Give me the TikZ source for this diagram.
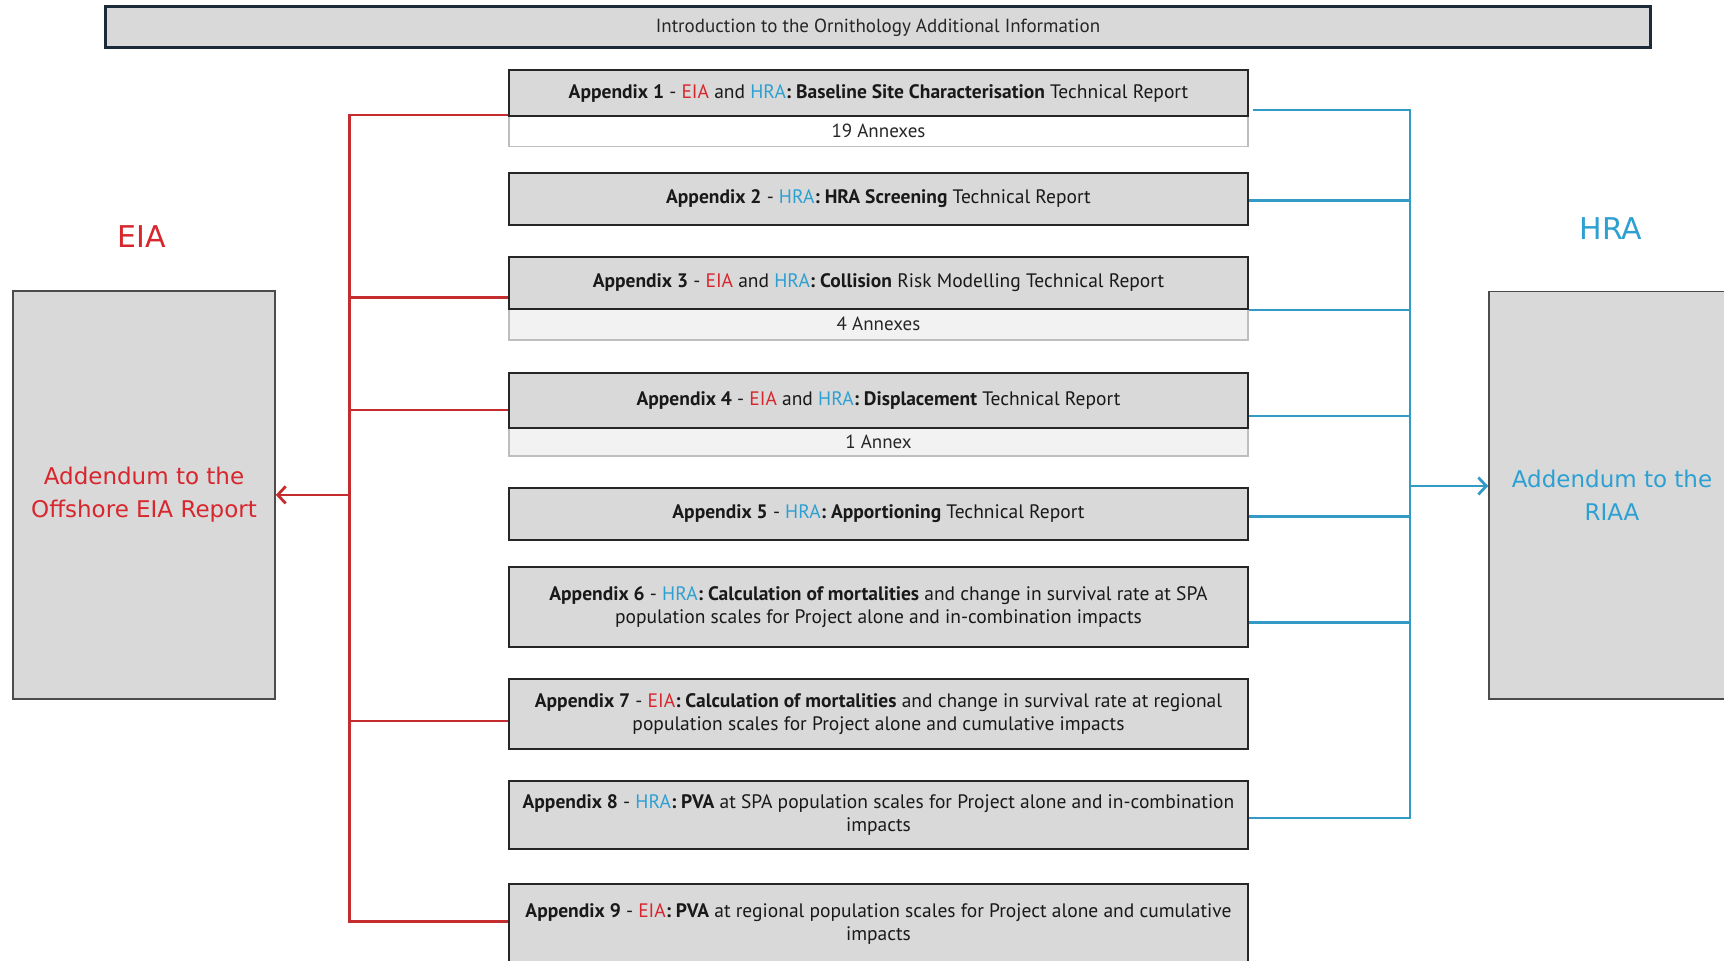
\documentclass[tikz,border=0pt]{standalone}
\usepackage{fontspec}
\setmainfont{PT Sans}
\newfontfamily\addfont{DejaVu Sans}
\usepackage{tikz}
\usetikzlibrary{calc}
\usetikzlibrary{arrows.meta}
\definecolor{eiared}{RGB}{215,38,45}
\definecolor{hrablue}{RGB}{45,160,210}
\definecolor{eialn}{RGB}{196,44,46}
\definecolor{hraln}{RGB}{50,154,196}
\definecolor{boxgrey}{RGB}{217,217,217}
\definecolor{boxline}{RGB}{38,38,38}
\definecolor{navyline}{RGB}{28,43,57}
\definecolor{anngrey}{RGB}{242,242,242}
\definecolor{annline}{RGB}{190,190,190}
\tikzset{
  appbox/.style={draw=boxline,fill=boxgrey,line width=2pt,minimum width=739pt,inner sep=0pt,align=center,text=black!90,font=\fontsize{19.5}{23}\selectfont},
  annbox/.style={draw=annline,line width=1.5pt,minimum width=739pt,inner sep=0pt,text=black!85,font=\fontsize{19}{20}\selectfont},
  addbox/.style={draw=black!70,fill=boxgrey,line width=1.5pt,inner sep=0pt,align=center,font=\addfont\fontsize{23}{33}\selectfont},
  eialine/.style={draw=eialn,line width=2.8pt},
  hraline/.style={draw=hraln,line width=2.8pt}
}
\newcommand{\eia}{\textcolor{eiared}{EIA}}
\newcommand{\hra}{\textcolor{hrablue}{HRA}}
\newcommand{\eiabranch}[2]{\draw[eialine] (#1.west |- 0,#2) -- (rbus |- 0,#2);}
\newcommand{\hrabranch}[2]{\draw[hraline] (#1.east |- 0,#2) -- (hbus |- 0,#2);}

\begin{document}
\begin{tikzpicture}[x=1pt,y=-1pt]
        \useasboundingbox (0,0) rectangle (1724,961);
        % top box
        \node[draw=navyline,fill=boxgrey,line width=3pt,minimum width=1545pt,minimum height=41pt,text=black!85,font=\fontsize{19}{20}\selectfont] (intro) at (878,27.3) {Introduction to the Ornithology Additional Information};
        % annexes
        \node[annbox,fill=white,minimum height=30.5pt] (ann1) at (878.5,131.3) {19 Annexes};
        \node[annbox,fill=anngrey,minimum height=31.5pt] (ann3) at (878.5,324.3) {4 Annexes};
        \node[annbox,fill=anngrey,minimum height=27.7pt] (ann4) at (878.5,442) {1 Annex};
        % appendices
        \node[appbox,minimum height=46pt] (app1) at (878.5,93) {\textbf{Appendix 1} - \eia{} and \hra\textbf{: Baseline Site Characterisation} Technical Report};
        \node[appbox,minimum height=52pt] (app2) at (878.5,198.8) {\textbf{Appendix 2} - \hra\textbf{: HRA Screening} Technical Report};
        \node[appbox,minimum height=52pt] (app3) at (878.5,282.6) {\textbf{Appendix 3} - \eia{} and \hra\textbf{: Collision} Risk Modelling Technical Report};
        \node[appbox,minimum height=55.6pt] (app4) at (878.5,400.5) {\textbf{Appendix 4} - \eia{} and \hra\textbf{: Displacement} Technical Report};
        \node[appbox,minimum height=52.3pt] (app5) at (878.5,513.8) {\textbf{Appendix 5} - \hra\textbf{: Apportioning} Technical Report};
        \node[appbox,minimum height=79.4pt] (app6) at (878.5,607) {\textbf{Appendix 6} - \hra\textbf{: Calculation of mortalities} and change in survival rate at SPA\\population scales for Project alone and in-combination impacts};
        \node[appbox,minimum height=70.3pt] (app7) at (878.5,714) {\textbf{Appendix 7} - \eia\textbf{: Calculation of mortalities} and change in survival rate at regional\\population scales for Project alone and cumulative impacts};
        \node[appbox,minimum height=68.3pt] (app8) at (878.5,815) {\textbf{Appendix 8} - \hra\textbf{: PVA} at SPA population scales for Project alone and in-combination\\impacts};
        \node[appbox,minimum height=80pt] (app9) at (878.5,924) {\textbf{Appendix 9} - \eia\textbf{: PVA} at regional population scales for Project alone and cumulative\\impacts};
        % side boxes
        \node[text=eiared,font=\addfont\fontsize{30}{36}\selectfont] (eialab) at (142,237) {EIA};
        \node[text=hrablue,font=\addfont\fontsize{30}{36}\selectfont] (hralab) at (1611,228.5) {HRA};
        \node[addbox,text=eiared,minimum width=262pt,minimum height=408pt] (eia) at (144,494.9) {Addendum to the\\Offshore EIA Report};
        \node[addbox,text=hrablue,minimum width=246pt,minimum height=407.5pt] (hra) at (1612,495.3) {Addendum to the\\RIAA};
        % buses
        \coordinate (rbus) at (349.6,0);
        \coordinate (hbus) at (1410,0);
        % EIA side
        \draw[eialine] (app1.west |- 0,115) -| (rbus |- 0,921.7) -- (app9.west |- 0,921.7);
        \eiabranch{app3}{297.7}
        \eiabranch{app4}{410}
        \eiabranch{app7}{721}
        \draw[eialine,-{Straight Barb[length=8pt,width=17pt]}] (eia.east -| rbus) -- (eia.east);
        % HRA side
        \draw[hraline] ([xshift=4pt]app1.east |- 0,110) -| (hbus |- 0,818) -- (app8.east |- 0,818);
        \hrabranch{app2}{200.7}
        \hrabranch{app3}{310}
        \hrabranch{app4}{416}
        \hrabranch{app5}{516.7}
        \hrabranch{app6}{622.7}
        \draw[hraline,-{Straight Barb[length=8pt,width=17pt]}] (hbus |- 0,486) -- (hra.west |- 0,486);
\end{tikzpicture}
\end{document}
